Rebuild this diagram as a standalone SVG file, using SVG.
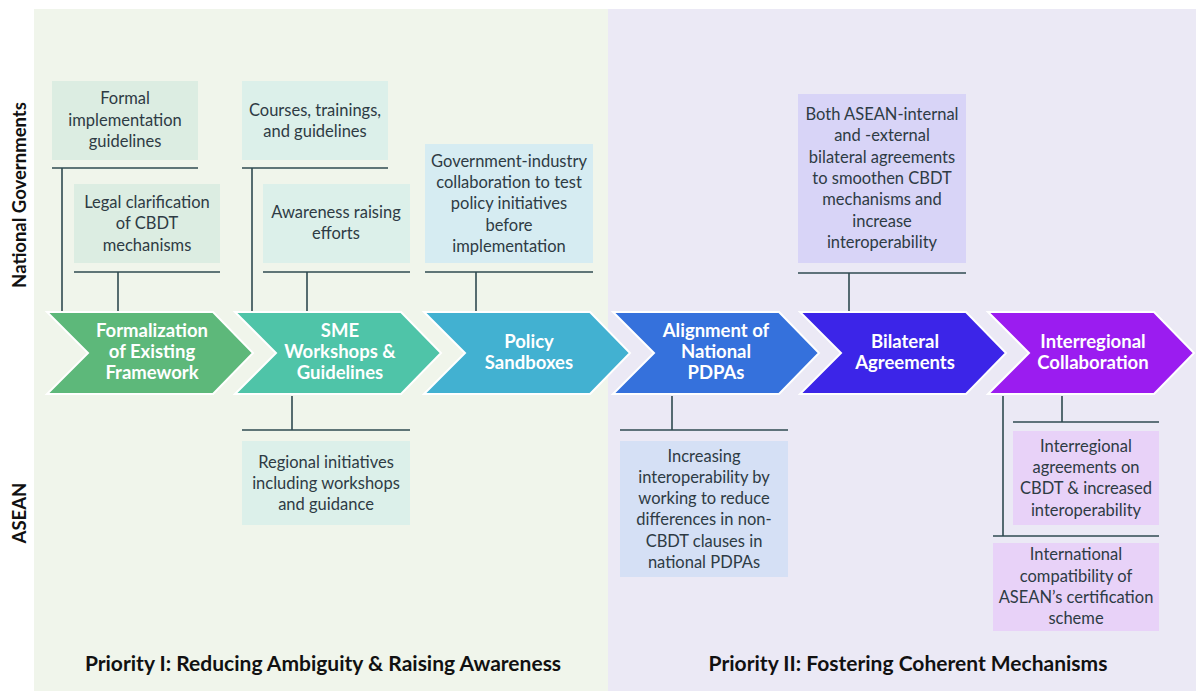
<svg xmlns="http://www.w3.org/2000/svg" width="1196" height="691" viewBox="0 0 1196 691">
  <style>
    .body { font-family: Lato, "Open Sans", "Liberation Sans", sans-serif; font-size: 16.5px; fill: #2e3b44; text-anchor: middle; }
    .chev { font-family: Lato, "Open Sans", "Liberation Sans", sans-serif; font-size: 18.5px; font-weight: bold; fill: #ffffff; text-anchor: middle; }
    .lane { font-family: Lato, "Open Sans", "Liberation Sans", sans-serif; font-size: 18.5px; font-weight: bold; fill: #111111; text-anchor: middle; }
    .prio { font-family: Lato, "Open Sans", "Liberation Sans", sans-serif; font-size: 21px; font-weight: bold; fill: #111111; text-anchor: middle; }
    .conn line { stroke: #2f4a50; stroke-width: 1.6; }
    .arrow { stroke: #ffffff; stroke-width: 2; }
  </style>
  <defs>
    <!-- one chevron step, 206 wide, 82 tall -->
    <polygon id="chevron" points="0,0 166,0 206,41 166,82 0,82 41,41"/>
  </defs>

  <rect width="1196" height="691" fill="#ffffff"/>
  <!-- priority panels -->
  <rect id="panel-1" x="34" y="9" width="574" height="682" fill="#f0f5eb"/>
  <rect id="panel-2" x="608" y="9" width="588" height="682" fill="#ebe9f5"/>

  <!-- lane labels -->
  <text class="lane" transform="translate(26,195) rotate(-90)">National Governments</text>
  <text class="lane" transform="translate(26,513) rotate(-90)">ASEAN</text>

  <!-- connectors -->
  <g class="conn" id="connectors">
    <line x1="52" y1="168" x2="198" y2="168"/>
    <line x1="62" y1="168" x2="62" y2="311"/>
    <line x1="74" y1="272" x2="220" y2="272"/>
    <line x1="118" y1="272" x2="118" y2="311"/>
    <line x1="242" y1="168" x2="388" y2="168"/>
    <line x1="252" y1="168" x2="252" y2="311"/>
    <line x1="263" y1="272" x2="410" y2="272"/>
    <line x1="307" y1="272" x2="307" y2="311"/>
    <line x1="425" y1="272" x2="593" y2="272"/>
    <line x1="476" y1="272" x2="476" y2="311"/>
    <line x1="798" y1="273" x2="966" y2="273"/>
    <line x1="849" y1="273" x2="849" y2="311"/>
    <line x1="292" y1="396" x2="292" y2="430"/>
    <line x1="242" y1="430" x2="410" y2="430"/>
    <line x1="672" y1="396" x2="672" y2="430"/>
    <line x1="620" y1="430" x2="788" y2="430"/>
    <line x1="1062" y1="396" x2="1062" y2="422"/>
    <line x1="1013" y1="422" x2="1159" y2="422"/>
    <line x1="1003" y1="396" x2="1003" y2="536"/>
    <line x1="993" y1="536" x2="1159" y2="536"/>
  </g>

  <!-- process chevrons -->
  <g id="step-formalization">
    <use href="#chevron" x="47" y="312" fill="#5db87a" class="arrow"/>
    <text class="chev" x="152" y="337">Formalization</text>
    <text class="chev" x="152" y="358">of Existing</text>
    <text class="chev" x="152" y="379">Framework</text>
  </g>
  <g id="step-sme">
    <use href="#chevron" x="235" y="312" fill="#4fc4a8" class="arrow"/>
    <text class="chev" x="340" y="337">SME</text>
    <text class="chev" x="340" y="358">Workshops &amp;</text>
    <text class="chev" x="340" y="379">Guidelines</text>
  </g>
  <g id="step-sandboxes">
    <use href="#chevron" x="424" y="312" fill="#42b1d1" class="arrow"/>
    <text class="chev" x="529" y="348">Policy</text>
    <text class="chev" x="529" y="369">Sandboxes</text>
  </g>
  <g id="step-alignment">
    <use href="#chevron" x="613" y="312" fill="#3571dc" class="arrow"/>
    <text class="chev" x="716" y="337">Alignment of</text>
    <text class="chev" x="716" y="358">National</text>
    <text class="chev" x="716" y="379">PDPAs</text>
  </g>
  <g id="step-bilateral">
    <use href="#chevron" x="800" y="312" fill="#3c25e8" class="arrow"/>
    <text class="chev" x="905" y="348">Bilateral</text>
    <text class="chev" x="905" y="369">Agreements</text>
  </g>
  <g id="step-interregional">
    <use href="#chevron" x="988" y="312" fill="#9b1cf0" class="arrow"/>
    <text class="chev" x="1093" y="348">Interregional</text>
    <text class="chev" x="1093" y="369">Collaboration</text>
  </g>

  <!-- national government measures -->
  <g id="formal-guidelines">
    <rect x="52" y="81" width="146" height="79" fill="#dcede2"/>
    <text class="body" x="125" y="104">Formal</text>
    <text class="body" x="125" y="126">implementation</text>
    <text class="body" x="125" y="147">guidelines</text>
  </g>
  <g id="legal-clarification">
    <rect x="74" y="184" width="146" height="79" fill="#dcede2"/>
    <text class="body" x="147" y="208">Legal clarification</text>
    <text class="body" x="147" y="229">of CBDT</text>
    <text class="body" x="147" y="251">mechanisms</text>
  </g>
  <g id="courses">
    <rect x="242" y="81" width="146" height="79" fill="#dcf0ea"/>
    <text class="body" x="315" y="116">Courses, trainings,</text>
    <text class="body" x="315" y="137">and guidelines</text>
  </g>
  <g id="awareness">
    <rect x="263" y="184" width="147" height="79" fill="#dcf0ea"/>
    <text class="body" x="336" y="218">Awareness raising</text>
    <text class="body" x="336" y="239">efforts</text>
  </g>
  <g id="gov-industry">
    <rect x="425" y="144" width="168" height="119" fill="#d6ecf2"/>
    <text class="body" x="509" y="167">Government-industry</text>
    <text class="body" x="509" y="188">collaboration to test</text>
    <text class="body" x="509" y="209">policy initiatives</text>
    <text class="body" x="509" y="231">before</text>
    <text class="body" x="509" y="252">implementation</text>
  </g>
  <g id="bilateral-detail">
    <rect x="798" y="94" width="168" height="169" fill="#d8d4f7"/>
    <text class="body" x="882" y="120">Both ASEAN-internal</text>
    <text class="body" x="882" y="141">and -external</text>
    <text class="body" x="882" y="163">bilateral agreements</text>
    <text class="body" x="882" y="184">to smoothen CBDT</text>
    <text class="body" x="882" y="205">mechanisms and</text>
    <text class="body" x="882" y="227">increase</text>
    <text class="body" x="882" y="248">interoperability</text>
  </g>

  <!-- ASEAN measures -->
  <g id="regional-initiatives">
    <rect x="242" y="441" width="168" height="84" fill="#dcf0ea"/>
    <text class="body" x="326" y="468">Regional initiatives</text>
    <text class="body" x="326" y="489">including workshops</text>
    <text class="body" x="326" y="510">and guidance</text>
  </g>
  <g id="interoperability">
    <rect x="620" y="441" width="168" height="136" fill="#d5e0f5"/>
    <text class="body" x="704" y="462">Increasing</text>
    <text class="body" x="704" y="483">interoperability by</text>
    <text class="body" x="704" y="504">working to reduce</text>
    <text class="body" x="704" y="525">differences in non-</text>
    <text class="body" x="704" y="547">CBDT clauses in</text>
    <text class="body" x="704" y="568">national PDPAs</text>
  </g>
  <g id="interregional-agreements">
    <rect x="1013" y="431" width="146" height="94" fill="#e8d2f8"/>
    <text class="body" x="1086" y="452">Interregional</text>
    <text class="body" x="1086" y="473">agreements on</text>
    <text class="body" x="1086" y="494">CBDT &amp; increased</text>
    <text class="body" x="1086" y="516">interoperability</text>
  </g>
  <g id="certification">
    <rect x="993" y="543" width="166" height="88" fill="#e8d2f8"/>
    <text class="body" x="1076" y="560">International</text>
    <text class="body" x="1076" y="582">compatibility of</text>
    <text class="body" x="1076" y="603">ASEAN’s certification</text>
    <text class="body" x="1076" y="624">scheme</text>
  </g>

  <!-- priority captions -->
  <text class="prio" x="323" y="671">Priority I: Reducing Ambiguity &amp; Raising Awareness</text>
  <text class="prio" x="908" y="671">Priority II: Fostering Coherent Mechanisms</text>
</svg>
